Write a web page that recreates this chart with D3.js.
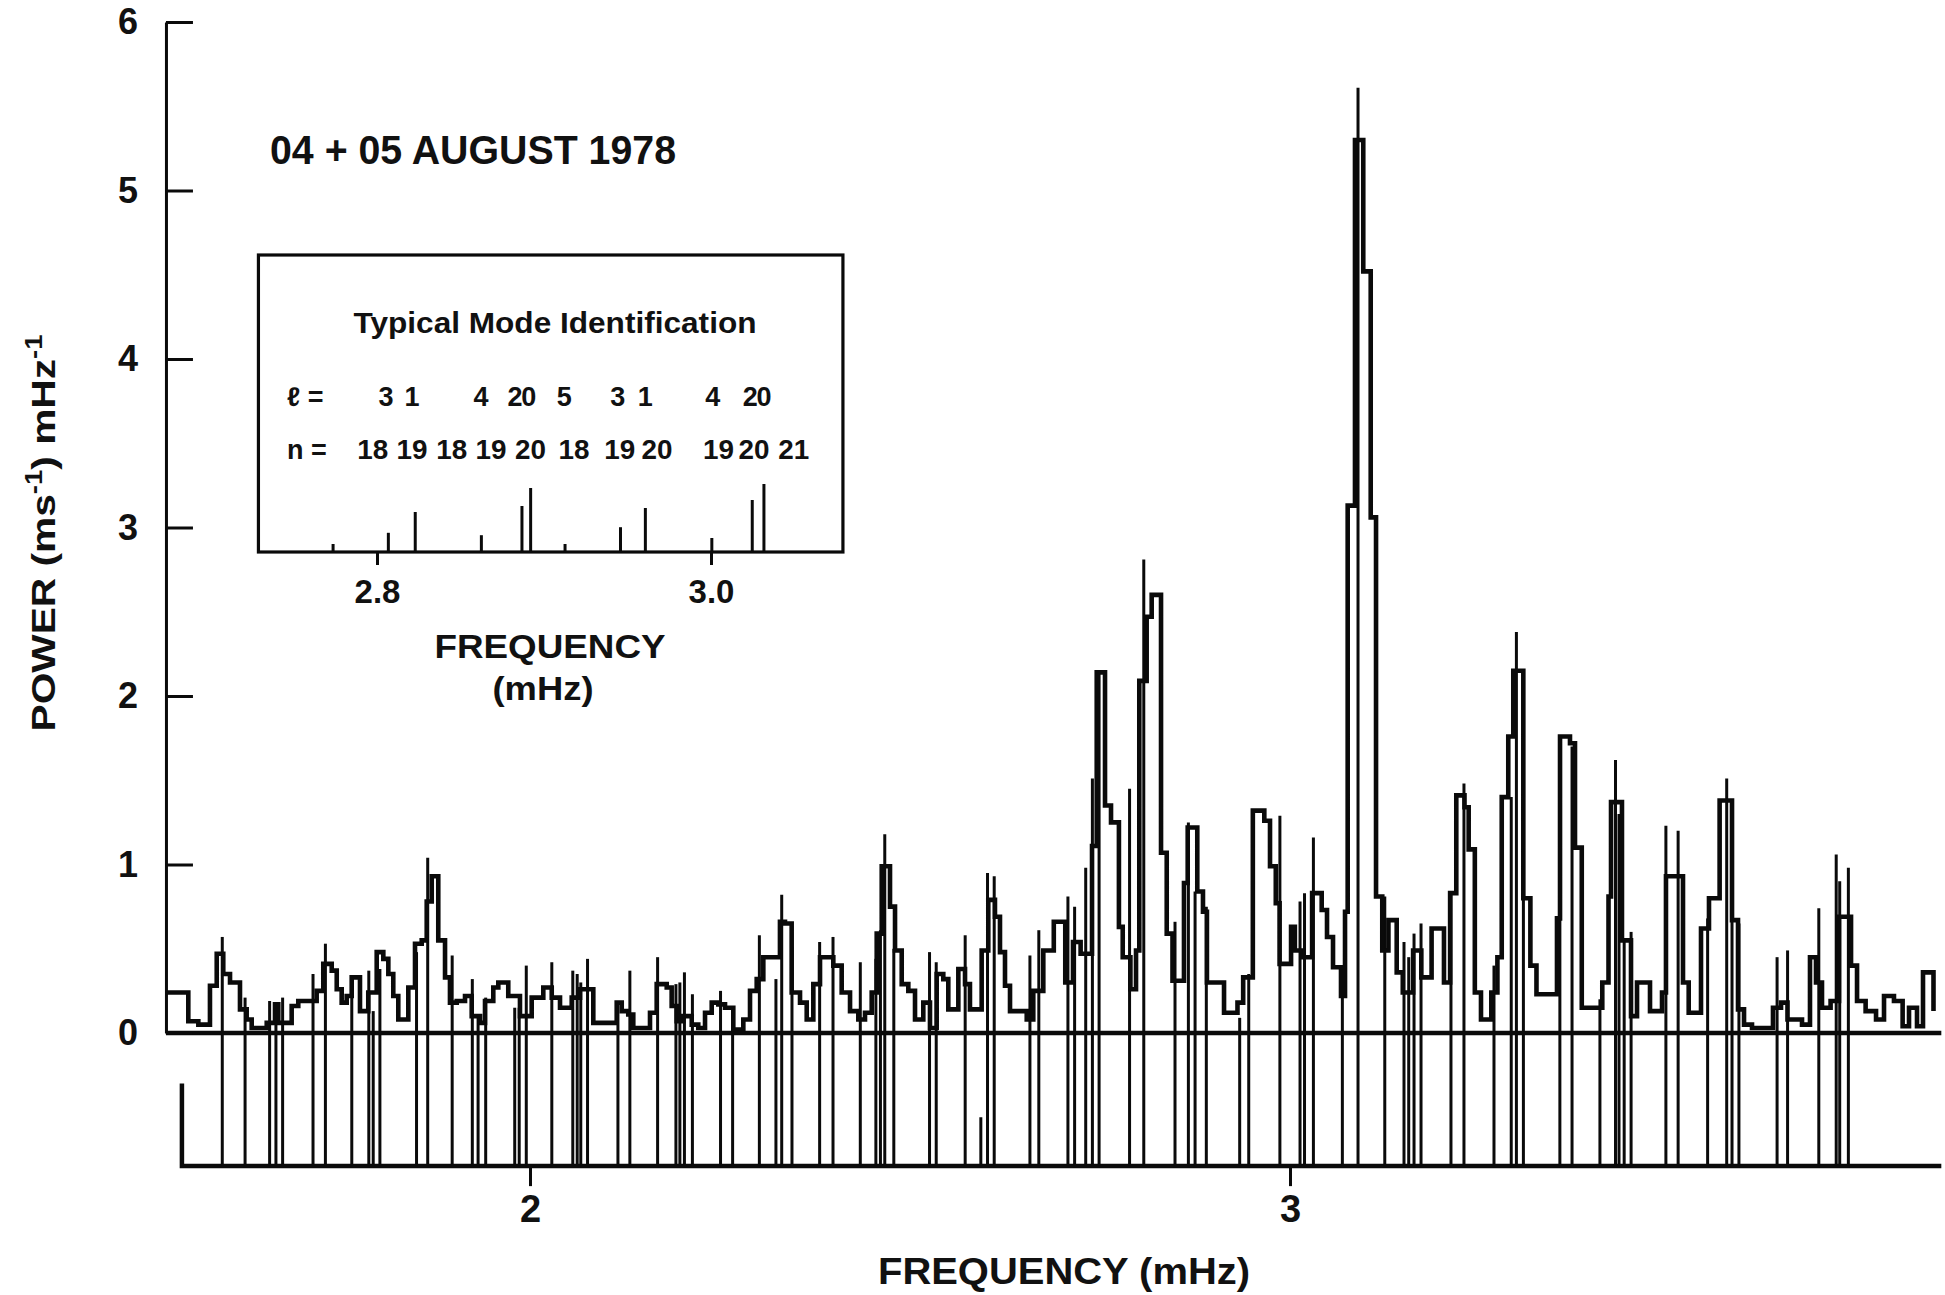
<!DOCTYPE html>
<html>
<head>
<meta charset="utf-8">
<script src="https://cdn.jsdelivr.net/npm/d3@7"></script>
<style>
  html, body { margin: 0; padding: 0; background: #fff; }
  svg { display: block; }
  text { fill: #111; font-family: "Liberation Sans", Arial, sans-serif; }
</style>
</head>
<body>
<svg id="chart" width="1945" height="1295"></svg>
<script>
// ---- Data -----------------------------------------------------------------

// Power spectrum as a histogram: [start frequency of bin (mHz), power]
const spectrum = [
  [1.522,0.24],[1.5504,0.07],[1.5636,0.05],[1.5789,0.28],[1.5878,0.47],[1.5964,0.35],[1.6053,0.30],
  [1.6184,0.14],[1.6272,0.08],[1.6338,0.03],[1.6536,0.06],[1.6645,0.17],[1.6688,0.06],[1.6864,0.16],
  [1.6951,0.19],[1.7193,0.25],[1.7280,0.41],[1.7391,0.37],[1.7457,0.26],[1.7522,0.18],[1.7588,0.22],
  [1.7654,0.33],[1.7763,0.13],[1.7872,0.24],[1.7983,0.48],[1.8070,0.44],[1.8136,0.35],[1.8201,0.22],
  [1.8267,0.08],[1.8399,0.27],[1.8487,0.53],[1.8575,0.55],[1.8641,0.78],[1.8707,0.93],[1.8793,0.55],
  [1.8882,0.33],[1.8947,0.18],[1.9036,0.19],[1.9145,0.22],[1.9233,0.10],[1.9342,0.06],[1.9408,0.19],
  [1.9517,0.27],[1.9583,0.30],[1.9714,0.22],[1.9868,0.10],[2.0022,0.21],[2.0175,0.27],[2.0286,0.21],
  [2.0395,0.15],[2.0549,0.21],[2.0658,0.26],[2.0833,0.06],[2.1141,0.18],[2.1207,0.13],[2.1293,0.11],
  [2.1359,0.03],[2.1579,0.12],[2.1667,0.29],[2.1799,0.27],[2.1864,0.16],[2.1930,0.07],[2.2017,0.10],
  [2.2128,0.05],[2.2214,0.03],[2.2303,0.12],[2.2391,0.18],[2.2478,0.17],[2.2566,0.15],[2.2675,0.02],
  [2.2807,0.08],[2.2895,0.25],[2.2983,0.32],[2.3070,0.45],[2.3289,0.66],[2.3355,0.65],[2.3443,0.24],
  [2.3553,0.18],[2.3641,0.08],[2.3728,0.29],[2.3816,0.45],[2.3991,0.40],[2.4101,0.24],[2.4211,0.13],
  [2.4320,0.08],[2.4408,0.12],[2.4496,0.24],[2.4562,0.59],[2.4628,0.99],[2.4737,0.75],[2.4803,0.49],
  [2.4891,0.29],[2.4978,0.25],[2.5066,0.08],[2.5175,0.18],[2.5263,0.03],[2.5351,0.35],[2.5438,0.32],
  [2.5504,0.14],[2.5636,0.38],[2.5724,0.29],[2.5789,0.14],[2.5943,0.49],[2.6030,0.79],[2.6118,0.69],
  [2.6184,0.48],[2.6250,0.28],[2.6316,0.13],[2.6536,0.08],[2.6622,0.25],[2.6754,0.49],[2.6892,0.66],
  [2.7043,0.30],[2.7145,0.54],[2.7245,0.47],[2.7395,1.11],[2.7457,2.14],[2.7566,1.35],[2.7645,1.25],
  [2.7749,0.63],[2.7799,0.45],[2.7900,0.26],[2.7974,0.49],[2.8017,2.09],[2.8114,2.47],[2.8180,2.60],
  [2.8303,1.07],[2.8378,0.59],[2.8454,0.31],[2.8605,0.89],[2.8654,1.22],[2.8780,0.84],[2.8855,0.72],
  [2.8907,0.30],[2.9132,0.12],[2.9309,0.18],[2.9384,0.33],[2.9511,1.32],[2.9662,1.26],[2.9737,0.99],
  [2.9813,0.77],[2.9863,0.41],[3.0014,0.63],[3.0064,0.49],[3.0166,0.45],[3.0291,0.83],[3.0417,0.73],
  [3.0487,0.57],[3.0566,0.39],[3.0671,0.22],[3.0724,0.72],[3.0759,3.13],[3.0855,5.30],[3.0964,4.52],
  [3.1062,3.06],[3.1132,0.81],[3.1214,0.49],[3.1295,0.67],[3.1404,0.36],[3.1484,0.24],[3.1620,0.49],
  [3.1728,0.33],[3.1863,0.62],[3.2026,0.30],[3.2107,0.83],[3.2188,1.41],[3.2296,1.34],[3.2351,1.09],
  [3.2432,0.24],[3.2513,0.08],[3.2649,0.24],[3.2729,0.45],[3.2786,1.40],[3.2872,1.76],[3.2938,2.15],
  [3.3070,0.80],[3.3163,0.40],[3.3243,0.23],[3.3513,0.68],[3.3553,1.76],[3.3684,1.72],[3.3750,1.10],
  [3.3839,0.15],[3.4109,0.30],[3.4191,0.81],[3.4224,1.37],[3.4368,0.55],[3.4487,0.10],[3.4566,0.30],
  [3.4737,0.13],[3.4895,0.24],[3.4947,0.93],[3.5171,0.30],[3.5246,0.12],[3.5408,0.62],[3.5513,0.80],
  [3.5653,1.38],[3.5816,0.67],[3.5895,0.14],[3.5974,0.05],[3.6079,0.03],[3.6355,0.15],[3.6461,0.18],
  [3.6546,0.08],[3.6737,0.05],[3.6842,0.45],[3.6921,0.30],[3.7000,0.15],[3.7113,0.19],[3.7224,0.69],
  [3.7382,0.40],[3.7461,0.19],[3.7574,0.13],[3.7711,0.08],[3.7816,0.22],[3.7947,0.19],[3.8061,0.04],
  [3.8145,0.15],[3.8250,0.04],[3.8329,0.36],[3.8467,0.13]
];

// Predicted mode frequencies (mHz) and the power level each marker reaches
const modeFreq = [
  1.5951,1.6251,1.6574,1.6657,1.6745,1.7145,1.7308,1.7655,1.7879,1.7937,1.8025,1.8507,1.8654,1.8976,
  1.9241,1.9317,1.9417,1.9799,1.9858,1.9951,2.0287,2.0563,2.0621,2.0668,2.0757,2.1157,2.1314,2.1679,
  2.1920,2.1972,2.2032,2.2137,2.2507,2.2666,2.3018,2.3236,2.3312,2.3447,2.3811,2.3987,2.4346,2.4551,
  2.4611,2.4668,2.4787,2.5257,2.5345,2.5726,2.5932,2.6020,2.6108,2.6578,2.6695,2.7078,2.7166,2.7312,
  2.7400,2.7488,2.7889,2.8076,2.8487,2.8663,2.8751,2.8899,2.9338,2.9457,2.9867,3.0132,3.0191,3.0308,
  3.0689,3.0895,3.1247,3.1500,3.1562,3.1632,3.1724,3.2118,3.2289,3.2684,3.2911,3.2979,3.3071,3.3551,
  3.3711,3.4078,3.4283,3.4329,3.4397,3.4488,3.4946,3.5107,3.5495,3.5746,3.5816,3.5907,3.6409,3.6547,
  3.6958,3.7187,3.7233,3.7347
];
const modeTop = [
  0.57,0.21,0.19,0.12,0.21,0.35,0.53,0.33,0.37,0.13,0.38,0.48,1.04,0.46,
  0.32,0.10,0.21,0.15,0.15,0.40,0.42,0.37,0.35,0.30,0.44,0.19,0.37,0.45,
  0.29,0.30,0.36,0.23,0.25,0.16,0.58,0.32,0.82,0.51,0.54,0.57,0.42,0.44,
  0.61,1.18,0.50,0.48,0.42,0.58,-0.50,0.95,0.93,0.46,0.61,0.81,0.75,0.98,
  1.51,2.14,1.45,2.81,0.66,1.25,0.84,0.75,0.09,0.35,1.29,0.78,0.83,1.16,
  0.23,5.61,0.81,0.54,0.45,0.59,0.65,0.83,1.48,0.40,1.40,2.38,1.00,0.68,
  1.70,0.20,1.62,1.30,0.55,0.60,1.23,1.20,0.68,1.51,1.30,0.65,0.45,0.49,
  0.74,1.06,0.90,0.98
];

// Marker baseline, its left end, and the frequency span of the frame
const markerBase = -0.79;
const stubFreq = 1.542;
const stubTop = -0.30;
const freqSpan = [1.521, 3.857];

const yTicks = [0, 1, 2, 3, 4, 5, 6];
const xTicks = [2, 3];

// Inset: typical mode identification
const insetSpan = [2.729, 3.079];
const insetTicks = [2.8, 3.0];
const insetFreq = [2.7737,2.8068,2.8229,2.8625,2.8868,2.8920,2.9126,2.9458,2.9607,3.0005,3.0247,3.0317];
const insetAmp  = [0.10,0.24,0.50,0.21,0.575,0.80,0.10,0.31,0.55,0.175,0.65,0.85];
const ellLabels = ["3","1","4","2","0","5","3","1","4","2","0"];
const ellLabelFreq = [2.8054,2.8210,2.8623,2.8826,2.8909,2.9122,2.9441,2.9607,3.0010,3.0235,3.0317];
const nLabels = ["18","19","18","19","20","18","19","20","19","20","21"];
const nLabelFreq = [2.7974,2.8210,2.8447,2.8683,2.8920,2.9180,2.9453,2.9677,3.0045,3.0257,3.0495];

// ---- Drawing --------------------------------------------------------------

const svg = d3.select("#chart");
const ink = "#0a0a0a";
const sansBold = "'Liberation Sans', Arial, sans-serif";

const x = d3.scaleLinear().domain([2, 3]).range([530, 1290]);
const y = d3.scaleLinear().domain([0, 6]).range([1033, 22]);

// Mode markers rising from the lower baseline
svg.append("g")
  .selectAll("line")
  .data(modeFreq.map((f, i) => [f, modeTop[i]]))
  .join("line")
  .attr("x1", d => x(d[0])).attr("x2", d => x(d[0]))
  .attr("y1", y(markerBase)).attr("y2", d => y(d[1]))
  .attr("stroke", ink).attr("stroke-width", 3);

// Zero line
svg.append("line")
  .attr("x1", x(freqSpan[0])).attr("x2", x(freqSpan[1]))
  .attr("y1", y(0)).attr("y2", y(0))
  .attr("stroke", ink).attr("stroke-width", 4.5);

// Lower baseline with its left stub
svg.append("path")
  .attr("d", d3.line()([
    [x(stubFreq), y(stubTop)],
    [x(stubFreq), y(markerBase)],
    [x(freqSpan[1]), y(markerBase)]
  ]))
  .attr("fill", "none").attr("stroke", ink).attr("stroke-width", 4.5);

// Spectrum as a step curve
svg.append("path")
  .datum(spectrum)
  .attr("d", d3.line().x(d => x(d[0])).y(d => y(d[1])).curve(d3.curveStepAfter))
  .attr("fill", "none").attr("stroke", ink)
  .attr("stroke-width", 4.6).attr("stroke-linejoin", "miter");

// Y axis
const yAxis = svg.append("g")
  .attr("transform", `translate(${x(freqSpan[0])},0)`)
  .call(d3.axisLeft(y).tickValues(yTicks).tickFormat(d3.format("d"))
    .tickSize(-27).tickSizeOuter(0).tickPadding(28));
yAxis.select(".domain").attr("stroke", ink).attr("stroke-width", 3);
yAxis.selectAll(".tick line").attr("stroke", ink).attr("stroke-width", 3);
yAxis.selectAll(".tick text")
  .attr("fill", ink).style("font-size", "36px").style("font-weight", "bold")
  .style("font-family", sansBold);

// X axis below the marker baseline
const xAxis = svg.append("g")
  .attr("transform", `translate(0,${y(markerBase)})`)
  .call(d3.axisBottom(x).tickValues(xTicks).tickFormat(d3.format("d"))
    .tickSize(20).tickSizeOuter(0).tickPadding(9));
xAxis.select(".domain").remove();
xAxis.selectAll(".tick line").attr("stroke", ink).attr("stroke-width", 3);
xAxis.selectAll(".tick text")
  .attr("fill", ink).style("font-size", "38px").style("font-weight", "bold")
  .style("font-family", sansBold);

// Axis titles
svg.append("text")
  .attr("x", 1064).attr("y", 1284)
  .attr("text-anchor", "middle")
  .attr("textLength", 372).attr("lengthAdjust", "spacingAndGlyphs")
  .style("font-size", "36px").style("font-weight", "bold")
  .text("FREQUENCY  (mHz)");

const yTitle = svg.append("text")
  .attr("transform", "translate(55,533) rotate(-90)")
  .attr("text-anchor", "middle")
  .attr("textLength", 397).attr("lengthAdjust", "spacingAndGlyphs")
  .style("font-size", "34px").style("font-weight", "bold");
yTitle.append("tspan").text("POWER  (ms");
yTitle.append("tspan").attr("dy", -13).style("font-size", "23px").text("-1");
yTitle.append("tspan").attr("dy", 13).text(") mHz");
yTitle.append("tspan").attr("dy", -13).style("font-size", "23px").text("-1");

// Date caption
svg.append("text")
  .attr("x", 270).attr("y", 164)
  .attr("textLength", 406).attr("lengthAdjust", "spacingAndGlyphs")
  .style("font-size", "40px").style("font-weight", "bold")
  .text("04 + 05 AUGUST 1978");

// ---- Inset ----------------------------------------------------------------
const ix = d3.scaleLinear().domain([2.8, 3.0]).range([377, 711]);
const iy = d3.scaleLinear().domain([0, 1]).range([552, 472]);
const inset = svg.append("g");

inset.append("rect")
  .attr("x", ix(insetSpan[0])).attr("y", 255)
  .attr("width", ix(insetSpan[1]) - ix(insetSpan[0]))
  .attr("height", iy(0) - 255)
  .attr("fill", "none").attr("stroke", ink).attr("stroke-width", 3.2);

inset.append("g")
  .selectAll("line")
  .data(insetFreq.map((f, i) => [f, insetAmp[i]]))
  .join("line")
  .attr("x1", d => ix(d[0])).attr("x2", d => ix(d[0]))
  .attr("y1", iy(0)).attr("y2", d => iy(d[1]))
  .attr("stroke", ink).attr("stroke-width", 3);

const insetAxis = inset.append("g")
  .attr("transform", `translate(0,${iy(0)})`)
  .call(d3.axisBottom(ix).tickValues(insetTicks).tickFormat(d3.format(".1f"))
    .tickSize(13).tickSizeOuter(0).tickPadding(15));
insetAxis.select(".domain").remove();
insetAxis.selectAll(".tick line").attr("stroke", ink).attr("stroke-width", 3);
insetAxis.selectAll(".tick text")
  .attr("fill", ink).style("font-size", "33px").style("font-weight", "bold")
  .style("font-family", sansBold);

inset.append("text")
  .attr("x", 555).attr("y", 333)
  .attr("text-anchor", "middle")
  .attr("textLength", 403).attr("lengthAdjust", "spacingAndGlyphs")
  .style("font-size", "30px").style("font-weight", "bold")
  .text("Typical Mode Identification");

inset.append("text")
  .attr("x", 287).attr("y", 406)
  .style("font-size", "27px").style("font-weight", "bold")
  .text("\u2113 =");
inset.append("text")
  .attr("x", 287).attr("y", 459)
  .style("font-size", "27px").style("font-weight", "bold")
  .text("n =");

inset.append("g")
  .selectAll("text")
  .data(ellLabels.map((t, i) => [ellLabelFreq[i], t]))
  .join("text")
  .attr("x", d => ix(d[0])).attr("y", 406)
  .attr("text-anchor", "middle")
  .style("font-size", "27px").style("font-weight", "bold")
  .text(d => d[1]);

inset.append("g")
  .selectAll("text")
  .data(nLabels.map((t, i) => [nLabelFreq[i], t]))
  .join("text")
  .attr("x", d => ix(d[0])).attr("y", 459)
  .attr("text-anchor", "middle")
  .attr("textLength", 31).attr("lengthAdjust", "spacingAndGlyphs")
  .style("font-size", "27px").style("font-weight", "bold")
  .text(d => d[1]);

inset.append("text")
  .attr("x", 550).attr("y", 658)
  .attr("text-anchor", "middle")
  .attr("textLength", 231).attr("lengthAdjust", "spacingAndGlyphs")
  .style("font-size", "34px").style("font-weight", "bold")
  .text("FREQUENCY");
inset.append("text")
  .attr("x", 543).attr("y", 700)
  .attr("text-anchor", "middle")
  .attr("textLength", 101).attr("lengthAdjust", "spacingAndGlyphs")
  .style("font-size", "34px").style("font-weight", "bold")
  .text("(mHz)");
</script>
</body>
</html>
